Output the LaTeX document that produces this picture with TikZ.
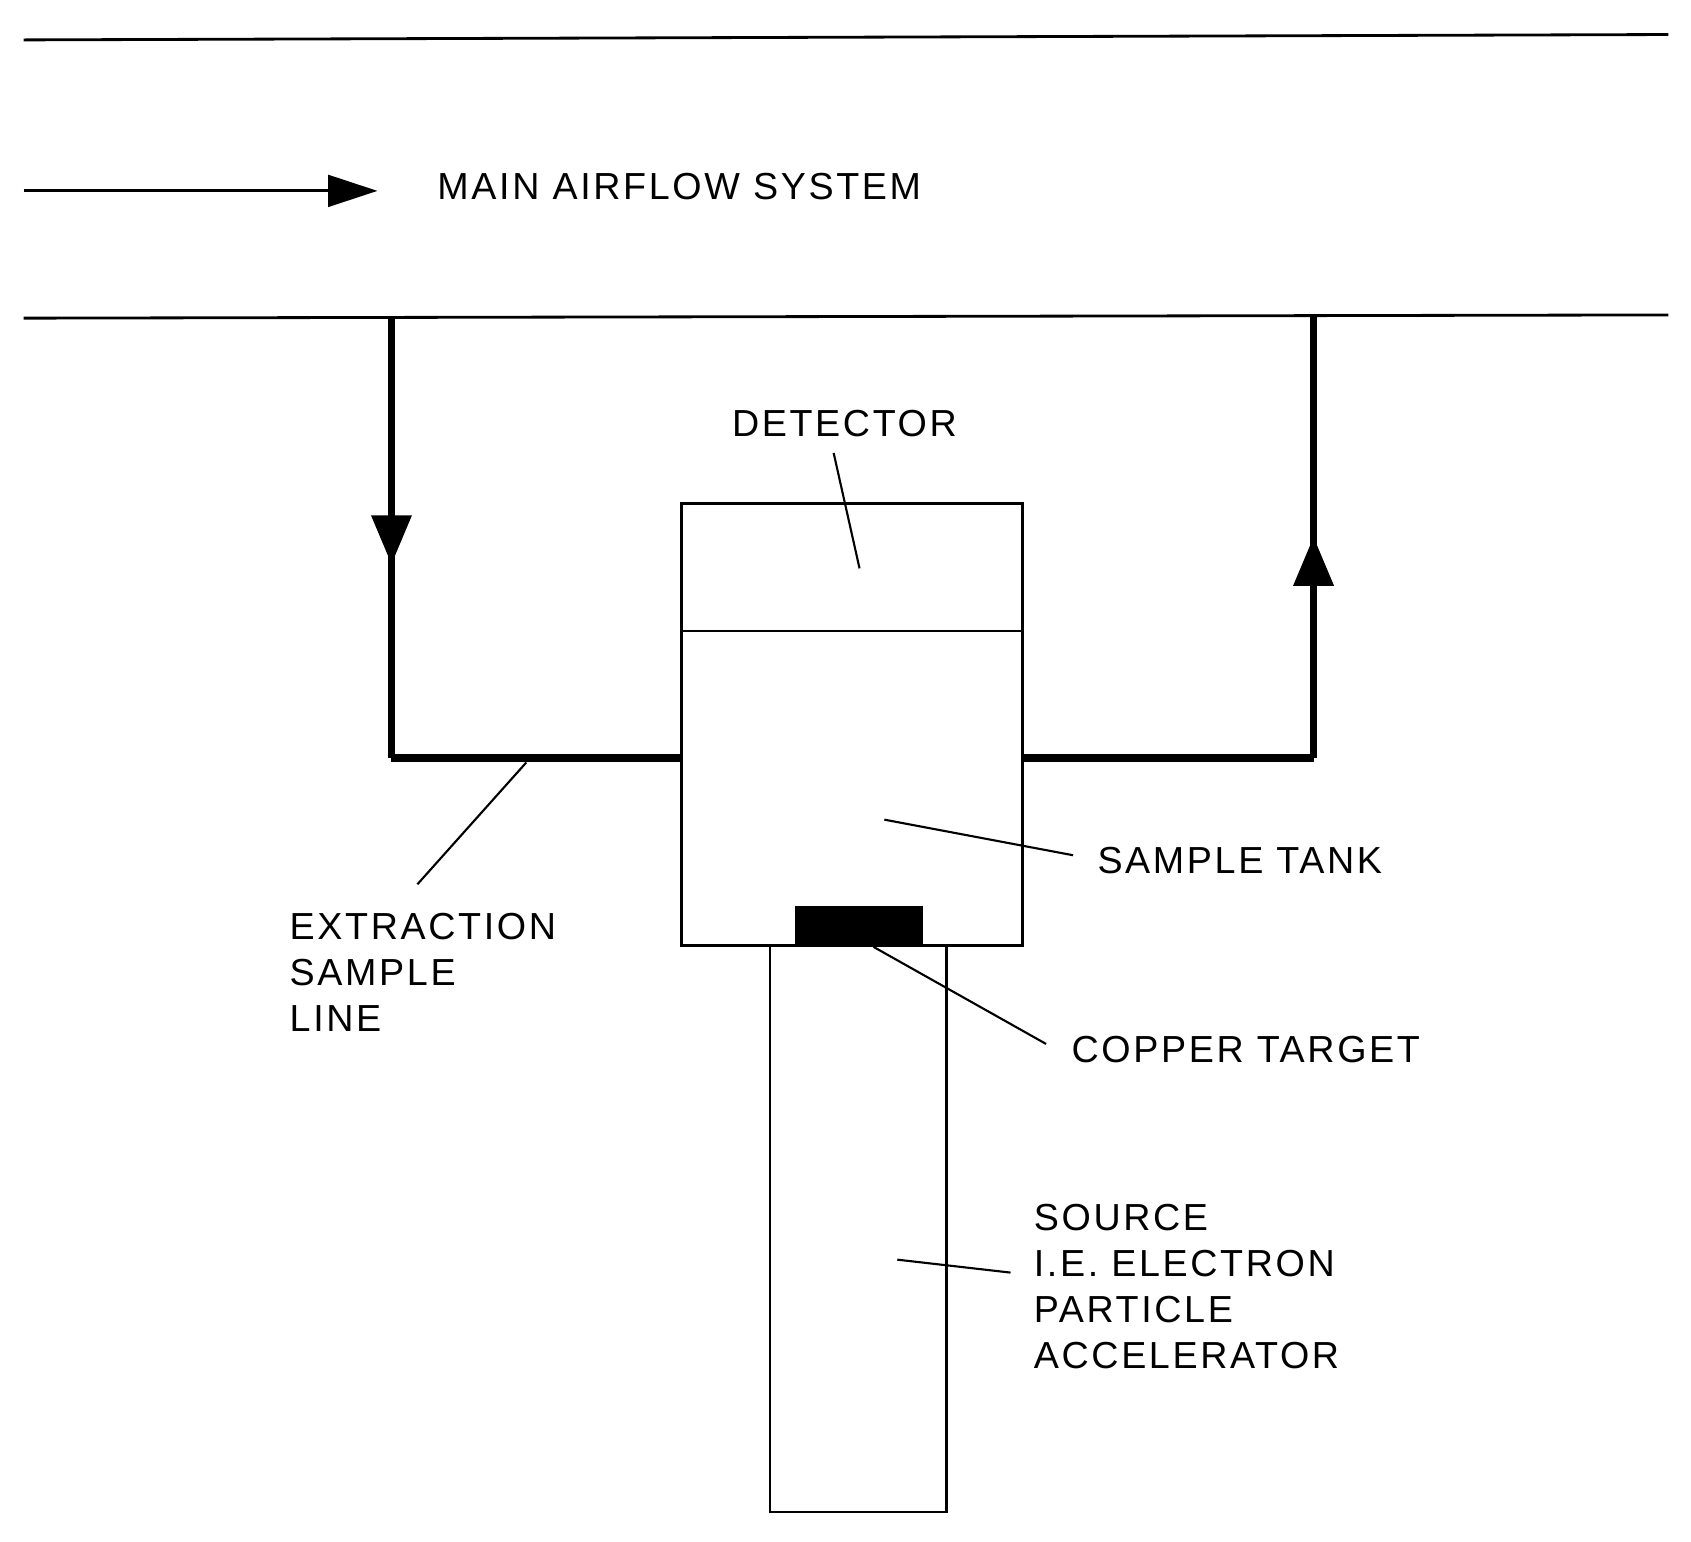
\documentclass[tikz,border=0pt]{standalone}
\usepackage{fontspec}
\setmainfont{Liberation Sans}[LetterSpace=7]
\usetikzlibrary{arrows.meta,decorations.markings}
\tikzset{
  wall/.style   = {draw, line width=0.8pt},
  pipe/.style   = {draw, line width=2.2pt},
  box/.style    = {draw, line width=0.8pt},
  leader/.style = {draw, line width=0.6pt},
  label/.style  = {font=\fontsize{10.7}{13.1}\selectfont, align=left, inner sep=0pt, anchor=west},
  midarrow/.style = {postaction={decorate}, decoration={markings,
                     mark=at position #1 with {\arrow{Triangle[length=14pt,width=11pt]}}}}
}
\begin{document}
\begin{tikzpicture}[x=0.01078cm, y=-0.01078cm]
  \useasboundingbox (0,0) rectangle (1568,1429);
  % duct walls
  \coordinate (w1a) at (22,37);  \coordinate (w1b) at (1547,32);
  \coordinate (w2a) at (22,295); \coordinate (w2b) at (1547,292);
  \path[wall] (w1a) -- (w1b);
  \path[wall] (w2a) -- (w2b);
  \coordinate (flowA) at (22,177); \coordinate (flowB) at (350,177);
  \draw[line width=0.8pt, -{Triangle[length=14pt,width=9pt]}] (flowA) -- (flowB);
  \node[label] (main) at (405,173) {MAIN AIRFLOW SYSTEM};

  % detector, tank, accelerator
  \coordinate (detTL) at (632,467); \coordinate (detBR) at (948,585);
  \coordinate (tankBR) at (948,877);
  \coordinate (accTL) at (714,877); \coordinate (accBR) at (878,1402);
  \coordinate (cuTL) at (737,840);  \coordinate (cuBR) at (856,877);
  \path[box] (detTL) rectangle (detBR);
  \path[box] (detTL |- detBR) rectangle (tankBR);
  \path[box] (accTL) rectangle (accBR);
  \fill (cuTL) rectangle (cuBR);

  % sample lines
  \coordinate (inTop) at (363,295);  \coordinate (inBot) at (363,703);
  \coordinate (tankL) at (632,703);  \coordinate (tankR) at (948,703);
  \coordinate (outBot) at (1218,703); \coordinate (outTop) at (1218,292);
  \path[pipe, midarrow=0.56] (inTop) -- (inBot);
  \path[pipe] (inBot) -- (tankL);
  \path[pipe] (tankR) -- (outBot);
  \path[pipe, midarrow=0.50] (outBot) -- (outTop);

  % labels
  \node[label, anchor=center] (det) at (783,393) {DETECTOR};
  \node[label, anchor=north west] (ext) at (268,846) {EXTRACTION\\SAMPLE\\LINE};
  \node[label] (tank) at (1017,798) {SAMPLE TANK};
  \node[label] (cu) at (993,973) {COPPER TARGET};
  \node[label, anchor=north west] (src) at (958,1116) {SOURCE\\I.E. ELECTRON\\PARTICLE\\ACCELERATOR};

  % leaders
  \coordinate (detP) at (797,527);  \coordinate (detQ) at (773,420);
  \coordinate (extP) at (488,707);  \coordinate (extQ) at (387,820);
  \coordinate (tankP) at (820,760); \coordinate (tankQ) at (995,793);
  \coordinate (cuP) at (810,878);   \coordinate (cuQ) at (970,968);
  \coordinate (srcP) at (832,1168); \coordinate (srcQ) at (937,1180);
  \foreach \p/\q in {detP/detQ, extP/extQ, tankP/tankQ, cuP/cuQ, srcP/srcQ}
    \path[leader] (\p) -- (\q);
\end{tikzpicture}
\end{document}
